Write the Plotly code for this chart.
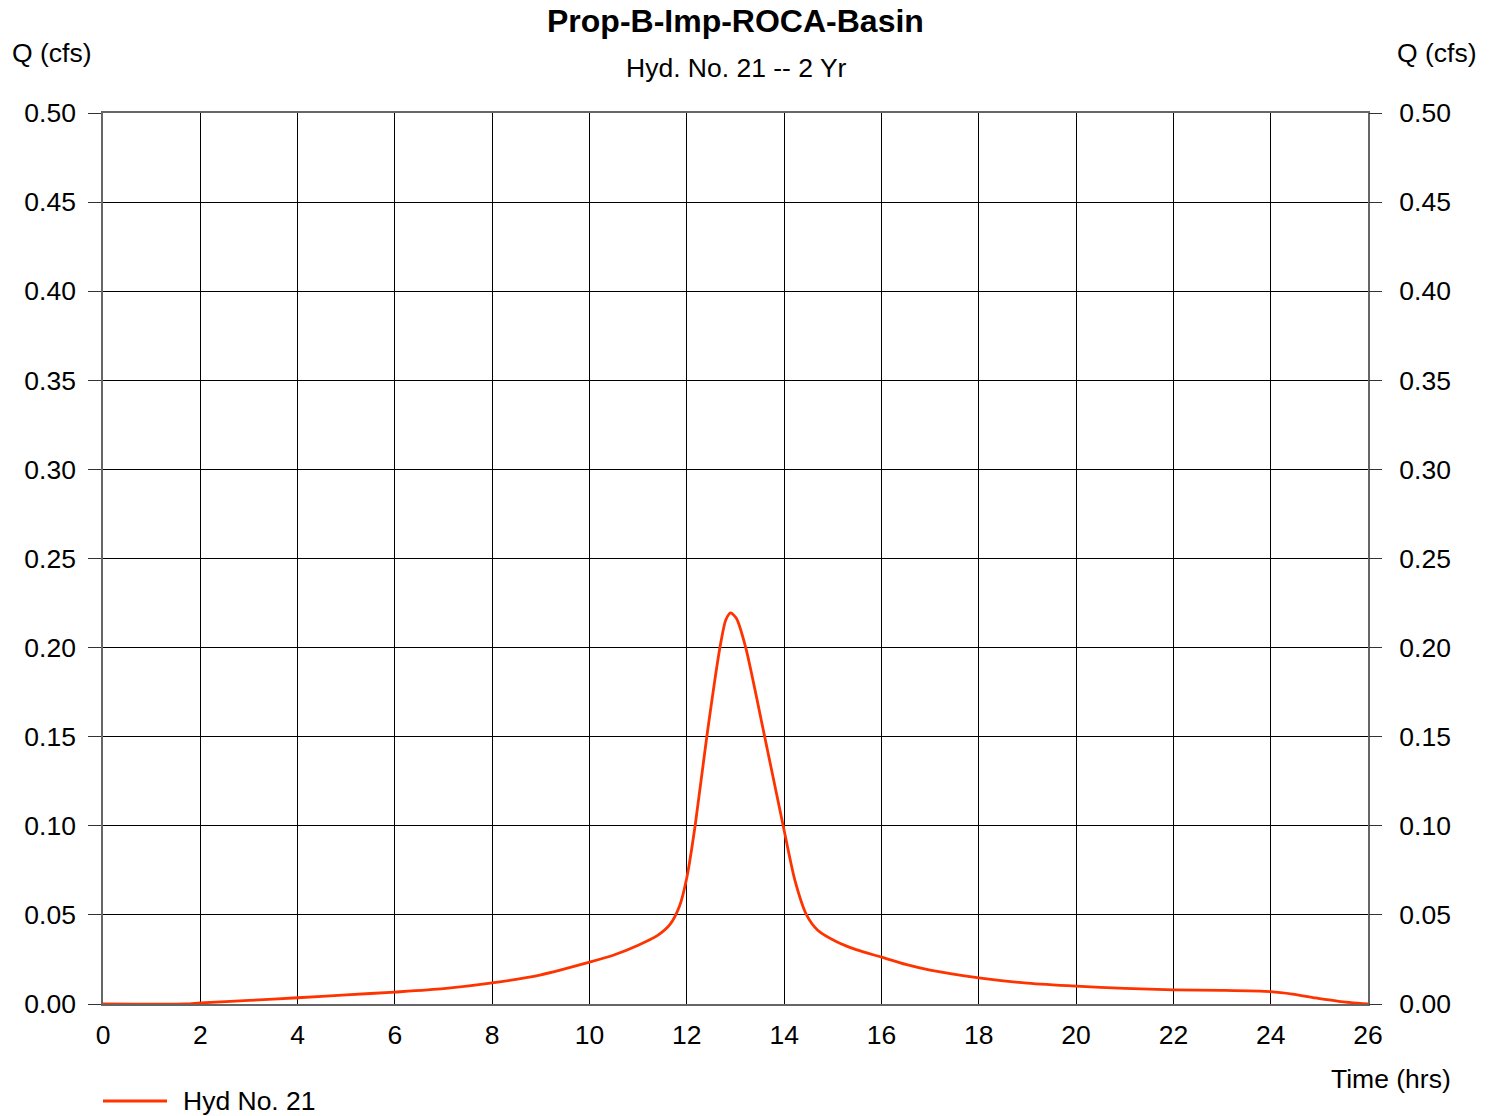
import plotly.graph_objects as go

# Hydrograph data (time in hrs, flow in cfs)
time_hrs = [0, 1.7, 2, 3, 4, 5, 6, 7, 8, 9, 10, 10.5, 11, 11.4, 11.65, 11.85, 12.0,
            12.17, 12.41, 12.68, 12.8, 12.9, 13.02, 13.21, 13.6, 13.98, 14.22, 14.46,
            14.69, 15.09, 15.48, 16, 16.5, 17, 18, 19, 20, 21, 22, 23, 24, 24.45, 24.92,
            25.4, 26]
flow_cfs = [0, 0, 0.0006, 0.002, 0.0035, 0.0051, 0.0067, 0.0086, 0.0118, 0.0164,
            0.0235, 0.0275, 0.0330, 0.0385, 0.0445, 0.055, 0.071, 0.100, 0.150, 0.200,
            0.2155, 0.2195, 0.2163, 0.200, 0.150, 0.100, 0.0695, 0.050, 0.0414,
            0.0348, 0.0305, 0.0263, 0.0222, 0.0190, 0.0147, 0.0117, 0.0100, 0.0088,
            0.0079, 0.0077, 0.0070, 0.0056, 0.0034, 0.0015, 0]

x_ticks = list(range(0, 27, 2))
y_ticks = [0.00, 0.05, 0.10, 0.15, 0.20, 0.25, 0.30, 0.35, 0.40, 0.45, 0.50]
y_tick_labels = [f"{v:.2f}" for v in y_ticks]

title = "Prop-B-Imp-ROCA-Basin"
subtitle = "Hyd. No. 21 -- 2 Yr"
series_name = "Hyd No. 21"

FONT = "Liberation Sans, Arial, Helvetica, sans-serif"
LINE_COLOR = "#ff3300"
FS = 26.5

fig = go.Figure()
fig.add_trace(go.Scatter(x=time_hrs, y=flow_cfs, mode="lines",
                         line=dict(color=LINE_COLOR, width=2.8, shape="spline", smoothing=0.7),
                         name=series_name, showlegend=False))
# invisible trace on right axis so it renders
fig.add_trace(go.Scatter(x=[0], y=[0], yaxis="y2", mode="markers",
                         marker=dict(opacity=0), showlegend=False, hoverinfo="skip"))

fig.update_layout(
    width=1497, height=1116,
    margin=dict(l=103, r=129, t=113, b=112),
    paper_bgcolor="white", plot_bgcolor="white",
    font=dict(family=FONT, size=FS, color="black"),
    xaxis=dict(range=[0, 26], tickvals=x_ticks, ticktext=[str(v) for v in x_ticks],
               showgrid=True, gridcolor="black", gridwidth=1,
               showline=True, linecolor="#666", linewidth=1.5, mirror=True,
               ticks="", ticklabelstandoff=6, zeroline=False,
               tickfont=dict(size=FS)),
    yaxis=dict(range=[0, 0.5], tickvals=y_ticks, ticktext=y_tick_labels,
               showgrid=True, gridcolor="black", gridwidth=1,
               showline=True, linecolor="#666", linewidth=1.5, mirror=True,
               ticks="outside", ticklen=13, tickcolor="#333", tickwidth=1,
               ticklabelstandoff=7, zeroline=False, tickfont=dict(size=FS)),
    yaxis2=dict(range=[0, 0.5], tickvals=y_ticks, ticktext=y_tick_labels,
                overlaying="y", side="right", showgrid=False,
                ticks="outside", ticklen=13, tickcolor="#333", tickwidth=1,
                ticklabelstandoff=12, zeroline=False, showline=False,
                tickfont=dict(size=FS)),
)

def pxx(p):
    return (p - 103) / 1265.0

def pxy(p):
    return (1004 - p) / 891.0

annotations = [
    dict(text=f"<b>{title}</b>", x=pxx(735), y=pxy(21), xanchor="center", yanchor="middle",
         font=dict(size=32)),
    dict(text=subtitle, x=pxx(736), y=pxy(68), xanchor="center", yanchor="middle",
         font=dict(size=FS)),
    dict(text="Q (cfs)", x=pxx(10), y=pxy(53), xanchor="left", yanchor="middle",
         font=dict(size=FS)),
    dict(text="Q (cfs)", x=pxx(1479), y=pxy(53), xanchor="right", yanchor="middle",
         font=dict(size=FS)),
    dict(text="Time (hrs)", x=pxx(1453), y=pxy(1079), xanchor="right", yanchor="middle",
         font=dict(size=FS)),
    dict(text=series_name, x=pxx(181), y=pxy(1101), xanchor="left", yanchor="middle",
         font=dict(size=FS)),
]
for a in annotations:
    a.update(xref="paper", yref="paper", showarrow=False)
fig.update_layout(annotations=annotations)

fig.add_shape(type="line", xref="paper", yref="paper",
              x0=pxx(103), x1=pxx(167), y0=pxy(1101), y1=pxy(1101),
              line=dict(color=LINE_COLOR, width=2.8))

fig.write_html("out.html", config={"displayModeBar": False},
               post_script="document.body.style.margin='0';document.body.style.overflow='hidden';")
